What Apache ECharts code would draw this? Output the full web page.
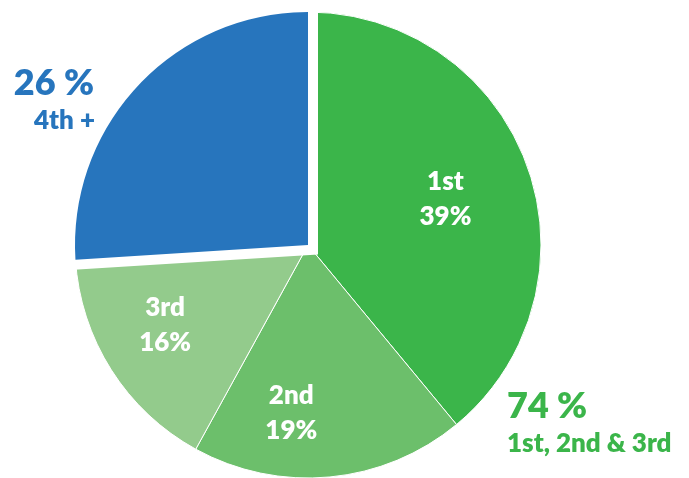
<!DOCTYPE html>
<html>
<head>
<meta charset="utf-8">
<script src="https://cdn.jsdelivr.net/npm/echarts@6/dist/echarts.min.js"></script>
<style>
  html, body { margin: 0; padding: 0; background: #fff; }
  #chart { width: 689px; height: 478px; }
</style>
</head>
<body>
<div id="chart"></div>
<script>
  // share of finishes by position
  const categories = ['1st', '2nd', '3rd', '4th +'];
  const shares = [39, 19, 16, 26];
  const podiumLabel = '1st, 2nd & 3rd';

  const greens = ['#3BB54A', '#6CBF6B', '#93CB8C'];
  const blue = '#2775BD';
  const font = 'Lato, "Open Sans", sans-serif';

  const center = [308, 245];
  const radius = 233;
  // nudges for the inner labels, relative to where echarts puts them
  const labelNudge = [[25, -5], [-28, 49], [-42, 16]];

  const podium = shares.slice(0, 3).reduce((a, b) => a + b, 0);
  const rest = shares[3];

  const slices = style => categories.map((name, i) => ({name, value: shares[i], itemStyle: style(i)}));

  const base = {
    type: 'pie', center, radius, startAngle: 90, clockwise: true,
    silent: true, animation: false,
    emphasis: {disabled: true}, labelLine: {show: false}
  };

  const chart = echarts.init(document.getElementById('chart'));
  chart.setOption({
    animation: false,
    series: [
      {
        ...base, z: 1,
        data: slices(i => i < 3
          ? {color: greens[i], borderColor: '#fff', borderWidth: 1}
          : {color: '#fff', borderWidth: 0}),
        label: {
          show: true, position: 'inside',
          formatter: p => p.dataIndex < 3 ? p.name + '\n' + p.value + '%' : '',
          color: '#fff', fontFamily: font, fontWeight: 800, fontSize: 26, lineHeight: 35
        },
        labelLayout: p => {
          const n = labelNudge[p.dataIndex];
          return n ? {dx: n[0], dy: n[1]} : {};
        }
      },
      // white band that pulls the 4th+ slice away from the greens
      {
        ...base, z: 2, label: {show: false},
        data: slices(i => i < 3
          ? {color: 'transparent', borderWidth: 0}
          : {color: '#fff', borderColor: '#fff', borderWidth: 20, borderJoin: 'miter'})
      },
      {
        ...base, z: 3, label: {show: false},
        data: slices(i => i < 3
          ? {color: 'transparent', borderWidth: 0}
          : {color: blue, borderWidth: 0})
      }
    ],
    graphic: [
      {type: 'text', x: 94, y: 83, style: {text: rest + ' %', font: '800 36px ' + font, fill: blue, textAlign: 'right', textVerticalAlign: 'middle'}},
      {type: 'text', x: 95, y: 121, style: {text: categories[3], font: '800 26px ' + font, fill: blue, textAlign: 'right', textVerticalAlign: 'middle'}},
      {type: 'text', x: 507, y: 406, style: {text: podium + ' %', font: '800 36px ' + font, fill: greens[0], textAlign: 'left', textVerticalAlign: 'middle'}},
      {type: 'text', x: 507, y: 444, style: {text: podiumLabel, font: '800 26px ' + font, fill: greens[0], textAlign: 'left', textVerticalAlign: 'middle'}}
    ]
  });
</script>
</body>
</html>
